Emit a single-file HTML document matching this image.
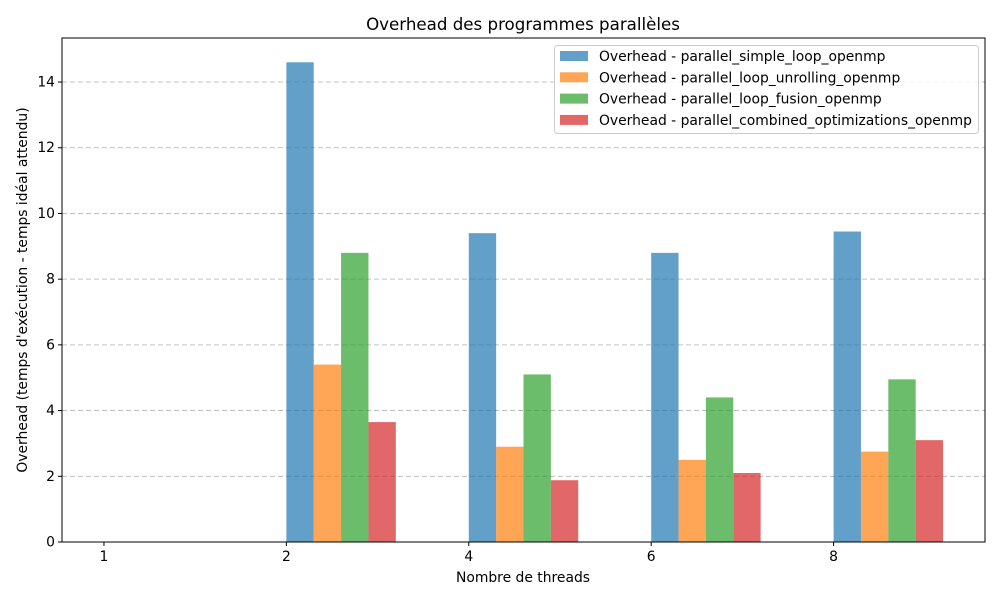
<!DOCTYPE html>
<html><head><meta charset="utf-8"><style>
body{margin:0;background:#fff;font-family:"Liberation Sans","DejaVu Sans",sans-serif}
svg text{font-family:"DejaVu Sans","Liberation Sans",sans-serif}
</style></head><body>
<svg id="chart" width="1000" height="600" xmlns="http://www.w3.org/2000/svg">
<rect width="1000" height="600" fill="#fff"/>
<text x="523" y="30" font-size="16.67" text-anchor="middle">Overhead des programmes parallèles</text>
<g id="grid"></g><g id="bars"></g><g id="axes"></g>
<text x="523" y="582" font-size="13.89" text-anchor="middle">Nombre de threads</text>
<text transform="translate(27,290) rotate(-90)" font-size="13.89" text-anchor="middle">Overhead (temps d'exécution - temps idéal attendu)</text>
<g id="legend"></g>
</svg>
<script>
const categories=["1","2","4","6","8"];
const seriesNames=["Overhead - parallel_simple_loop_openmp","Overhead - parallel_loop_unrolling_openmp","Overhead - parallel_loop_fusion_openmp","Overhead - parallel_combined_optimizations_openmp"];
const simpleLoop=[0,14.6,9.4,8.8,9.45];
const unrolling=[0,5.4,2.9,2.5,2.75];
const fusion=[0,8.8,5.1,4.4,4.95];
const combined=[0,3.65,1.88,2.1,3.1];
const yTicks=[0,2,4,6,8,10,12,14];
const series=[simpleLoop,unrolling,fusion,combined];
const colors=["#1f77b4","#ff7f0e","#2ca02c","#d62728"];
const NS="http://www.w3.org/2000/svg";
const L=62,R=985,T=38,B=542,yMax=15.34,xMin=-0.23,xMax=4.83;
const y=v=>B-v/yMax*(B-T);
const x=i=>L+(i-xMin)/(xMax-xMin)*(R-L);
const bw=0.15*(x(1)-x(0));
function mk(tag,attrs,parent){const e=document.createElementNS(NS,tag);for(const k in attrs)e.setAttribute(k,attrs[k]);document.getElementById(parent).appendChild(e);return e;}
yTicks.forEach(t=>{
 if(t>0){const g=mk("line",{x1:L,x2:R,y1:y(t),y2:y(t),stroke:"#b0b0b0","stroke-dasharray":"5,3","stroke-width":0.8},"grid");
 
 }
 mk("line",{x1:L-4,x2:L,y1:y(t),y2:y(t),stroke:"#000"},"axes");
 const tx=mk("text",{x:L-7,y:y(t)+4.5,"font-size":13.89,"text-anchor":"end"},"axes");tx.textContent=t;
 
 
});
categories.forEach((c,i)=>{
 mk("line",{x1:x(i),x2:x(i),y1:B,y2:B+4,stroke:"#000"},"axes");
 const tx=mk("text",{x:x(i),y:B+19,"font-size":13.89,"text-anchor":"middle"},"axes");tx.textContent=c;
 
 
});
series.forEach((s,j)=>{s.forEach((v,i)=>{
 const r=mk("rect",{x:x(i)+j*bw,y:y(v),width:bw,height:B-y(v),fill:colors[j],"fill-opacity":0.7},"bars");
 
 
});});
const fr=mk("rect",{x:L,y:T,width:R-L,height:B-T,fill:"none",stroke:"#000","stroke-width":1},"axes");


const lb=mk("rect",{x:554.5,y:45.5,width:424,height:88,rx:3,fill:"#fff","fill-opacity":0.8,stroke:"#ccc"},"legend");


seriesNames.forEach((n,j)=>{
 const yy=56+j*21.3;
 const p=mk("rect",{x:560,y:yy-5,width:28,height:10,fill:colors[j],"fill-opacity":0.7},"legend");
 
 
 const t=mk("text",{x:599,y:yy+5,"font-size":13.89},"legend");t.textContent=n;
 
 
});
</script>
</body></html>
